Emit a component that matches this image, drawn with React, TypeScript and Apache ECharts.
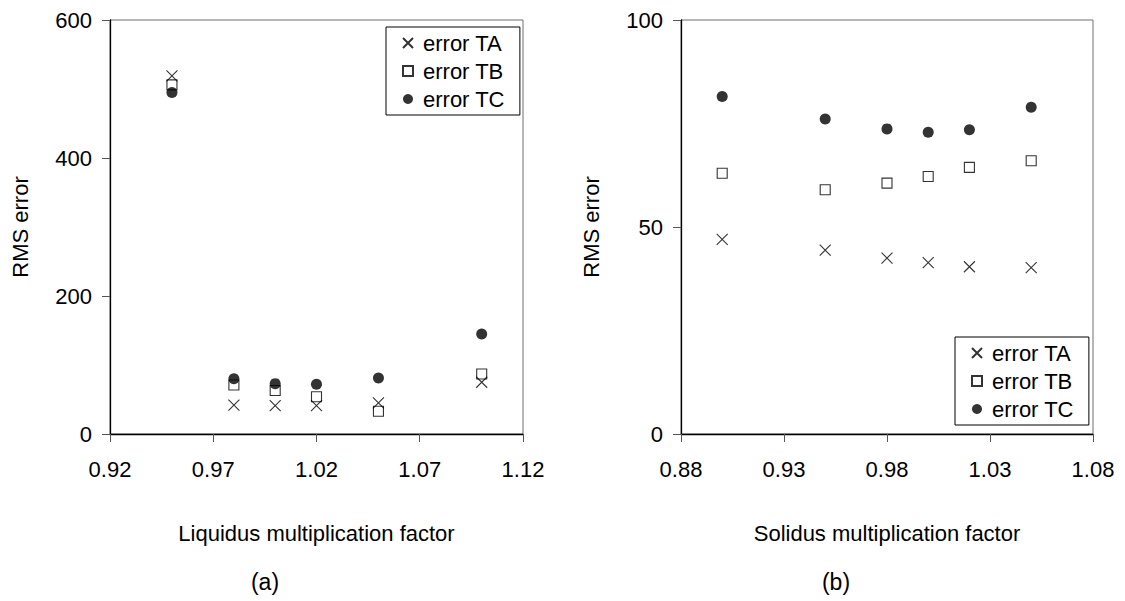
import React, { useEffect, useRef } from "react";
import * as echarts from "echarts";

// ---- Data ----
const liquidusX = [0.95, 0.98, 1.0, 1.02, 1.05, 1.1];
const liquidusTA = [519, 42, 41, 41, 45, 75];
const liquidusTB = [506, 71, 63, 54, 33, 87];
const liquidusTC = [495, 80, 73, 72, 81, 145];

const solidusX = [0.9, 0.95, 0.98, 1.0, 1.02, 1.05];
const solidusTA = [47.0, 44.4, 42.5, 41.4, 40.4, 40.2];
const solidusTB = [63.0, 59.0, 60.6, 62.2, 64.4, 66.0];
const solidusTC = [81.5, 76.1, 73.7, 72.9, 73.5, 78.9];

const seriesNames = ["error TA", "error TB", "error TC"];
const xAxisNames = ["Liquidus multiplication factor", "Solidus multiplication factor"];
const yAxisName = "RMS error";
const panelLabels = ["(a)", "(b)"];

const FONT = "Liberation Sans, Arial, Helvetica, sans-serif";
const FS = 22;

const crossPath = "path://M0,0L10,10M0,10L10,0";

function pairs(xs: number[], ys: number[]) {
  return xs.map((x, i) => [x, ys[i]]);
}

export default function App() {
  const ref = useRef<HTMLDivElement>(null);
  useEffect(() => {
    if (!ref.current) return;
    const chart = echarts.init(ref.current, undefined, { renderer: "svg" });

    const mkSeries = (gi: number, xs: number[], ta: number[], tb: number[], tc: number[]) => [
      {
        name: seriesNames[0],
        type: "scatter",
        xAxisIndex: gi,
        yAxisIndex: gi,
        symbol: crossPath,
        symbolSize: 11,
        itemStyle: { color: "transparent", borderColor: "#000", borderWidth: 1.1 },
        data: pairs(xs, ta),
      },
      {
        name: seriesNames[1],
        type: "scatter",
        xAxisIndex: gi,
        yAxisIndex: gi,
        symbol: "rect",
        symbolSize: 10,
        itemStyle: { color: "transparent", borderColor: "#000", borderWidth: 1.1 },
        data: pairs(xs, tb),
      },
      {
        name: seriesNames[2],
        type: "scatter",
        xAxisIndex: gi,
        yAxisIndex: gi,
        symbol: "circle",
        symbolSize: 11,
        itemStyle: { color: "#000" },
        data: pairs(xs, tc),
      },
    ];

    const mkX = (gi: number, min: number, max: number) => ({
      type: "value",
      gridIndex: gi,
      min,
      max,
      interval: 0.05,
      name: xAxisNames[gi],
      nameLocation: "middle",
      nameGap: 88,
      nameTextStyle: { color: "#000", fontSize: FS, fontFamily: FONT },
      axisLine: { show: true, onZero: false, lineStyle: { color: "#000", width: 1.3 } },
      axisTick: { show: true, inside: false, length: 8, lineStyle: { color: "#555" } },
      axisLabel: {
        color: "#000",
        fontSize: FS,
        fontFamily: FONT,
        margin: 24,
        formatter: (v: number) => v.toFixed(2),
      },
      splitLine: { show: false },
    });

    const mkY = (gi: number, max: number, interval: number) => ({
      type: "value",
      gridIndex: gi,
      min: 0,
      max,
      interval,
      name: yAxisName,
      nameLocation: "middle",
      nameGap: 79,
      nameTextStyle: { color: "#000", fontSize: FS, fontFamily: FONT },
      axisLine: { show: true, onZero: false, lineStyle: { color: "#000", width: 1.3 } },
      axisTick: { show: true, inside: false, length: 8, lineStyle: { color: "#555" } },
      axisLabel: { color: "#000", fontSize: FS, fontFamily: FONT, margin: 18 },
      splitLine: { show: false },
    });

    const mkLegend = (left: number, top: number) => ({
      show: true,
      orient: "vertical",
      left,
      top,
      data: seriesNames,
      selectedMode: false,
      backgroundColor: "#fff",
      borderColor: "#000",
      borderWidth: 1,
      borderRadius: 0,
      padding: [5, 15, 5, 16],
      itemGap: 6,
      itemWidth: 10,
      itemHeight: 10,
      textStyle: { color: "#000", fontSize: FS, fontFamily: FONT, padding: [0, 0, 0, 5] },
    });

    chart.setOption({
      animation: false,
      backgroundColor: "#fff",
      textStyle: { fontFamily: FONT },
      grid: [
        { left: 110, top: 20, width: 413, height: 414, show: true, borderColor: "#6e6e6e", borderWidth: 1, backgroundColor: "transparent" },
        { left: 681, top: 20, width: 412, height: 414, show: true, borderColor: "#6e6e6e", borderWidth: 1, backgroundColor: "transparent" },
      ],
      xAxis: [mkX(0, 0.92, 1.12), mkX(1, 0.88, 1.08)],
      yAxis: [mkY(0, 600, 200), mkY(1, 100, 50)],
      legend: [mkLegend(386, 27), mkLegend(955, 337)],
      series: [
        ...mkSeries(0, liquidusX, liquidusTA, liquidusTB, liquidusTC),
        ...mkSeries(1, solidusX, solidusTA, solidusTB, solidusTC),
      ],
      graphic: [
        {
          type: "text",
          x: 265,
          y: 582,
          style: { text: panelLabels[0], fill: "#000", font: `${FS + 1}px ${FONT}`, textAlign: "center", textVerticalAlign: "middle" },
        },
        {
          type: "text",
          x: 836,
          y: 582,
          style: { text: panelLabels[1], fill: "#000", font: `${FS + 1}px ${FONT}`, textAlign: "center", textVerticalAlign: "middle" },
        },
      ],
    });
    return () => chart.dispose();
  }, []);
  return (
    <div
      ref={ref}
      style={{ position: "fixed", left: 0, top: 0, width: 1125, height: 601, background: "#fff" }}
    />
  );
}
